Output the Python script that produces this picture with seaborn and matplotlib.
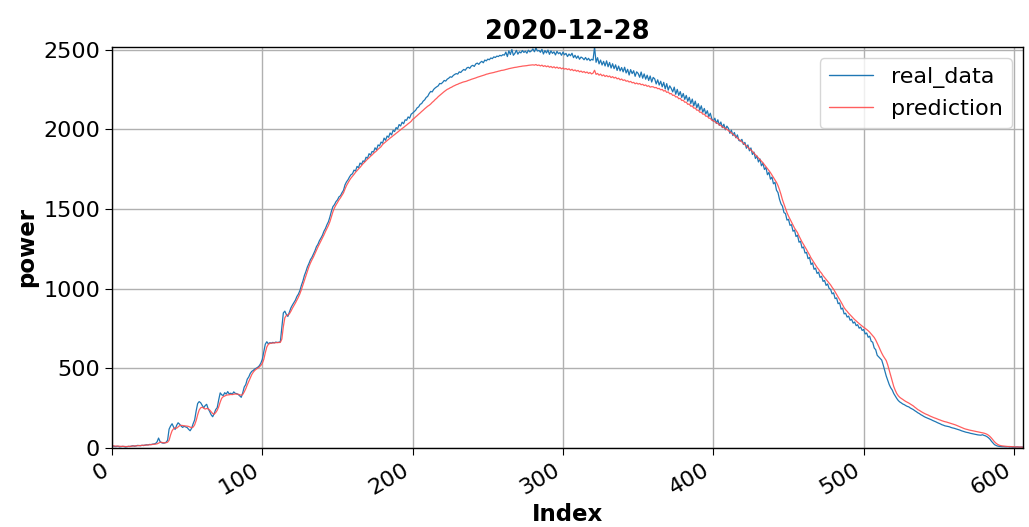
import numpy as np
import pandas as pd
import matplotlib
matplotlib.use("Agg")
import matplotlib.pyplot as plt
import seaborn as sns
from matplotlib.lines import Line2D

title = "2020-12-28"
x_label = "Index"
y_label = "power"

real_data = [
    10, 12, 8, 9, 11, 7, 8, 10, 9, 6,
    8, 10, 9, 12, 14, 11, 13, 16, 15, 14,
    17, 15, 18, 20, 19, 22, 21, 24, 25, 28,
    38, 62, 40, 33, 30, 31, 36, 48, 118, 138,
    152, 131, 116, 142, 158, 149, 138, 129, 136, 132,
    128, 117, 108, 124, 152, 176, 232, 279, 291, 284,
    268, 252, 266, 274, 246, 229, 208, 196, 216, 241,
    253, 302, 346, 334, 329, 347, 338, 354, 339, 344,
    337, 352, 343, 341, 336, 327, 318, 347, 383, 398,
    432, 446, 468, 481, 487, 496, 501, 507, 516, 532,
    556, 604, 652, 667, 654, 661, 658, 663, 660, 665,
    662, 664, 667, 758, 848, 859, 838, 826, 852, 879,
    897, 912, 928, 951, 966, 988, 1021, 1048, 1083, 1108,
    1137, 1158, 1182, 1197, 1218, 1238, 1264, 1279, 1302, 1318,
    1336, 1361, 1378, 1402, 1421, 1452, 1488, 1516, 1528, 1547,
    1558, 1577, 1584, 1603, 1618, 1652, 1671, 1684, 1702, 1716,
    1722, 1745, 1739, 1768, 1760, 1789, 1781, 1803, 1798, 1826,
    1819, 1848, 1839, 1862, 1858, 1885, 1872, 1903, 1897, 1921,
    1914, 1946, 1932, 1959, 1951, 1978, 1966, 1995, 1987, 2012,
    2004, 2031, 2022, 2046, 2036, 2061, 2058, 2079, 2071, 2096,
    2103, 2112, 2121, 2136, 2142, 2158, 2163, 2178, 2186, 2201,
    2208, 2226, 2239, 2236, 2252, 2261, 2268, 2274, 2289, 2287,
    2296, 2308, 2304, 2316, 2322, 2331, 2328, 2339, 2346, 2351,
    2348, 2362, 2358, 2369, 2377, 2372, 2386, 2391, 2384, 2398,
    2403, 2396, 2412, 2417, 2409, 2421, 2428, 2419, 2436, 2431,
    2442, 2438, 2449, 2445, 2456, 2452, 2461, 2458, 2466, 2462,
    2470, 2467, 2486, 2458, 2494, 2471, 2502, 2466, 2478, 2497,
    2473, 2488, 2481, 2496, 2484, 2492, 2479, 2498, 2487, 2494,
    2506, 2488, 2512, 2493, 2497, 2485, 2503, 2474, 2496, 2481,
    2499, 2472, 2494, 2478, 2488, 2468, 2491, 2476, 2483, 2466,
    2486, 2469, 2478, 2458, 2474, 2463, 2479, 2451, 2466, 2447,
    2462, 2441, 2455, 2449, 2438, 2452, 2436, 2447, 2432, 2441,
    2436, 2518, 2422, 2451, 2412, 2436, 2405, 2428, 2399, 2431,
    2394, 2421, 2386, 2413, 2382, 2406, 2371, 2398, 2368, 2389,
    2362, 2391, 2355, 2378, 2342, 2376, 2351, 2369, 2334, 2362,
    2352, 2328, 2361, 2322, 2349, 2316, 2341, 2308, 2336, 2298,
    2327, 2318, 2286, 2312, 2279, 2303, 2268, 2296, 2255, 2288,
    2247, 2274, 2258, 2236, 2266, 2221, 2252, 2214, 2238, 2201,
    2226, 2189, 2214, 2177, 2202, 2163, 2191, 2148, 2178, 2136,
    2162, 2121, 2149, 2108, 2132, 2097, 2118, 2081, 2102, 2066,
    2052, 2071, 2038, 2061, 2026, 2047, 2012, 2033, 1998, 2021,
    2008, 1976, 1996, 1962, 1981, 1948, 1966, 1931, 1927, 1938,
    1906, 1919, 1882, 1903, 1866, 1884, 1843, 1858, 1818, 1834,
    1796, 1815, 1772, 1788, 1749, 1761, 1716, 1731, 1688, 1701,
    1659, 1668, 1619, 1604, 1562, 1533, 1518, 1478, 1472, 1431,
    1436, 1398, 1402, 1361, 1368, 1328, 1336, 1292, 1298, 1256,
    1262, 1224, 1228, 1189, 1196, 1152, 1162, 1122, 1129, 1096,
    1104, 1071, 1078, 1046, 1052, 1021, 1030, 1002, 996, 968,
    974, 938, 942, 906, 911, 872, 878, 842, 846, 822,
    828, 802, 808, 784, 791, 768, 774, 752, 759, 738,
    744, 716, 722, 695, 702, 670, 664, 628, 617, 582,
    572, 561, 552, 521, 486, 452, 424, 398, 378, 364,
    342, 326, 311, 298, 289, 283, 276, 272, 266, 261,
    258, 251, 246, 241, 234, 228, 221, 216, 209, 204,
    198, 193, 189, 185, 181, 177, 172, 168, 164, 159,
    155, 151, 146, 143, 139, 137, 135, 133, 129, 126,
    124, 121, 118, 115, 112, 108, 105, 102, 99, 97,
    95, 92, 90, 88, 86, 84, 82, 81, 80, 83,
    79, 76, 71, 64, 55, 42, 31, 21, 16, 12,
    10, 9, 8, 8, 7, 7, 8, 6, 7, 5,
    6, 5, 7, 6, 5, 6, 5,
]

prediction = [
    14, 13, 12, 12, 11, 11, 10, 10, 10, 9,
    9, 10, 10, 11, 12, 13, 13, 14, 15, 15,
    16, 17, 17, 18, 19, 20, 21, 22, 23, 24,
    26, 30, 36, 35, 33, 32, 33, 36, 48, 82,
    108, 121, 126, 124, 132, 140, 142, 141, 139, 138,
    137, 135, 131, 127, 131, 145, 172, 208, 238, 252,
    256, 250, 244, 248, 246, 238, 227, 216, 212, 222,
    236, 258, 288, 312, 322, 326, 331, 333, 334, 336,
    335, 337, 339, 338, 337, 334, 331, 336, 352, 372,
    396, 418, 441, 461, 476, 487, 495, 501, 508, 518,
    531, 556, 598, 634, 651, 656, 658, 659, 660, 661,
    662, 662, 663, 684, 762, 818, 832, 836, 842, 858,
    877, 893, 910, 928, 947, 968, 994, 1023, 1054, 1083,
    1112, 1138, 1161, 1181, 1199, 1220, 1241, 1262, 1281, 1299,
    1318, 1338, 1359, 1378, 1398, 1422, 1452, 1484, 1508, 1526,
    1541, 1558, 1571, 1586, 1602, 1626, 1648, 1665, 1681, 1695,
    1706, 1718, 1731, 1742, 1752, 1762, 1774, 1785, 1794, 1804,
    1814, 1822, 1832, 1840, 1850, 1858, 1866, 1876, 1884, 1892,
    1906, 1914, 1922, 1930, 1938, 1946, 1953, 1961, 1968, 1976,
    1983, 1991, 1998, 2006, 2013, 2021, 2028, 2036, 2043, 2051,
    2064, 2070, 2079, 2087, 2096, 2104, 2113, 2121, 2130, 2138,
    2146, 2152, 2160, 2170, 2178, 2188, 2196, 2206, 2214, 2222,
    2230, 2238, 2245, 2252, 2256, 2262, 2266, 2272, 2276, 2281,
    2284, 2289, 2292, 2296, 2299, 2301, 2304, 2308, 2311, 2315,
    2318, 2321, 2324, 2328, 2331, 2334, 2337, 2340, 2343, 2347,
    2349, 2352, 2354, 2356, 2358, 2361, 2363, 2366, 2368, 2371,
    2372, 2374, 2377, 2379, 2382, 2384, 2386, 2388, 2390, 2391,
    2393, 2395, 2396, 2398, 2399, 2400, 2401, 2403, 2404, 2405,
    2406, 2404, 2408, 2402, 2405, 2399, 2404, 2396, 2401, 2394,
    2399, 2391, 2396, 2388, 2394, 2386, 2392, 2384, 2389, 2381,
    2386, 2379, 2383, 2376, 2381, 2372, 2378, 2369, 2374, 2366,
    2371, 2362, 2367, 2359, 2364, 2356, 2361, 2352, 2358, 2349,
    2354, 2372, 2346, 2352, 2341, 2348, 2337, 2343, 2333, 2339,
    2331, 2336, 2326, 2332, 2323, 2328, 2318, 2322, 2312, 2317,
    2308, 2312, 2303, 2306, 2298, 2302, 2293, 2296, 2287, 2292,
    2285, 2289, 2281, 2284, 2276, 2280, 2271, 2275, 2266, 2269,
    2268, 2262, 2264, 2256, 2258, 2249, 2252, 2241, 2245, 2233,
    2236, 2224, 2226, 2214, 2216, 2204, 2206, 2193, 2196, 2182,
    2184, 2171, 2172, 2158, 2160, 2146, 2148, 2134, 2135, 2121,
    2122, 2108, 2109, 2096, 2097, 2083, 2084, 2071, 2070, 2058,
    2055, 2049, 2041, 2038, 2028, 2026, 2015, 2013, 2004, 2001,
    1994, 1986, 1979, 1970, 1963, 1954, 1946, 1937, 1931, 1922,
    1914, 1905, 1897, 1888, 1879, 1871, 1862, 1852, 1843, 1833,
    1823, 1813, 1802, 1791, 1779, 1768, 1755, 1742, 1729, 1714,
    1699, 1684, 1668, 1648, 1622, 1592, 1558, 1531, 1506, 1478,
    1456, 1437, 1418, 1398, 1381, 1366, 1352, 1331, 1312, 1294,
    1278, 1262, 1246, 1228, 1212, 1193, 1178, 1163, 1149, 1134,
    1122, 1108, 1097, 1082, 1070, 1058, 1047, 1036, 1024, 1009,
    996, 980, 965, 949, 932, 916, 898, 881, 868, 858,
    846, 836, 826, 815, 806, 798, 789, 781, 773, 765,
    758, 751, 744, 736, 727, 716, 706, 694, 678, 658,
    638, 616, 596, 578, 563, 549, 522, 488, 452, 418,
    386, 362, 342, 328, 318, 311, 305, 298, 292, 287,
    282, 276, 270, 264, 256, 249, 241, 236, 230, 224,
    219, 214, 210, 206, 201, 197, 193, 189, 186, 182,
    178, 175, 171, 168, 165, 163, 160, 157, 154, 151,
    148, 145, 141, 137, 133, 129, 125, 121, 118, 116,
    113, 111, 109, 107, 105, 103, 101, 99, 97, 95,
    93, 90, 86, 80, 72, 62, 50, 39, 30, 23,
    18, 15, 13, 12, 11, 10, 9, 9, 8, 8,
    7, 7, 6, 6, 6, 5, 5,
]

series_names = ["real_data", "prediction"]
series_colors = ["#1f77b4", "#ff4d4d"]

n = min(len(real_data), len(prediction))
df = pd.DataFrame({
    "Index": list(range(n)) * 2,
    "power": real_data[:n] + prediction[:n],
    "series": [series_names[0]] * n + [series_names[1]] * n,
})

sns.set_style("ticks")
plt.rcParams["font.family"] = ["DejaVu Sans"]
plt.rcParams["text.color"] = "black"
plt.rcParams["axes.labelcolor"] = "black"
plt.rcParams["xtick.color"] = "black"
plt.rcParams["ytick.color"] = "black"

fig, ax = plt.subplots(figsize=(10.29, 5.27), dpi=100)
fig.subplots_adjust(left=0.1088, right=0.9942, top=0.9108, bottom=0.15)

sns.lineplot(data=df, x="Index", y="power", hue="series",
             palette=dict(zip(series_names, series_colors)),
             linewidth=0.9, ax=ax, legend=False)
for line, a in zip(ax.get_lines(), [1.0, 0.9]):
    line.set_alpha(a)

ax.set_xlim(0, n - 1)
ax.set_ylim(0, max(max(real_data), max(prediction)))
ax.grid(True, color="#b0b0b0", linewidth=1.0)
ax.set_axisbelow(True)
for s in ax.spines.values():
    s.set_color("black")
    s.set_linewidth(1.0)

ax.set_title(title, fontsize=18.5, fontweight="bold", color="black")
ax.set_xlabel(x_label, fontsize=16.5, fontweight="bold", labelpad=3)
ax.set_ylabel(y_label, fontsize=16.5, fontweight="bold")
ax.tick_params(axis="both", labelsize=16, direction="out", length=5,
               color="black", labelcolor="black")
for lbl in ax.get_xticklabels():
    lbl.set_rotation(30)
    lbl.set_ha("right")

handles = [Line2D([0], [0], color=c, lw=1.0, alpha=a)
           for c, a in zip(series_colors, [1.0, 0.9])]
ax.legend(handles, series_names, loc="upper right", fontsize=16,
          frameon=True, framealpha=0.8, edgecolor="#cccccc")

fig.savefig("out.png", dpi=100)
